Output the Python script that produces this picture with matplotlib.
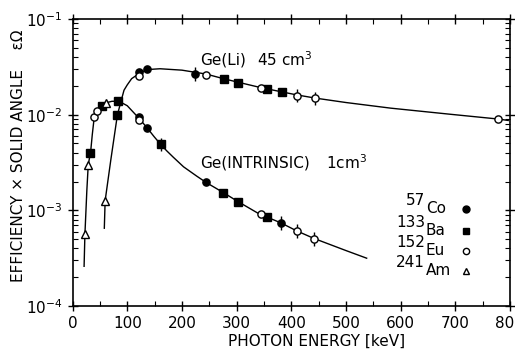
import numpy as np
import matplotlib
matplotlib.use("Agg")
import matplotlib.pyplot as plt
from matplotlib.ticker import MultipleLocator, LogLocator, NullFormatter, FixedLocator

plt.rcParams['font.family'] = ['DejaVu Sans']
plt.rcParams['mathtext.default'] = 'regular'

# fitted efficiency curves
geli_curve_e = [58, 59.5, 70, 82, 94, 100, 108, 122, 136, 160, 200, 244, 277, 302, 344,
                383, 410, 444, 500, 582, 691, 779, 797]
geli_curve_v = [6.5e-4, 1.26e-3, 3.4e-3, 0.0100, 0.0180, 0.0205, 0.0238, 0.0270, 0.0296,
                0.0302, 0.0292, 0.0266, 0.0237, 0.0219, 0.0192, 0.0173, 0.0161, 0.0149,
                0.0134, 0.0117, 0.0101, 0.0090, 0.0087]

intr_curve_e = [21, 22.5, 26, 28.6, 33, 36, 39, 42, 45, 52, 61, 72, 85, 100, 122, 137, 149,
                161, 172, 184, 203, 227, 244, 276, 302, 341, 381, 410, 441, 500, 538]
intr_curve_v = [2.6e-4, 5.6e-4, 1.6e-3, 3.0e-3, 4.1e-3, 6.2e-3, 8.8e-3, 1.0e-2, 0.0110,
                0.0122, 0.0133, 0.0138, 0.0138, 0.0124, 0.0091, 0.0072, 0.0059,
                0.0049, 0.0042, 0.0036, 0.00285, 0.00228, 0.00196, 0.00153, 0.00124,
                0.00092, 0.00074, 0.00061, 0.00051, 0.00038, 0.000316]

# measured points, Ge(Li) 45 cm3
geli_co_e = [122, 136, 224]
geli_co_v = [0.0282, 0.0302, 0.0267]
geli_co_err = [0, 0, 1]
geli_ba_e = [82, 277, 302, 355, 383]
geli_ba_v = [0.0100, 0.0234, 0.0216, 0.0184, 0.0171]
geli_ba_err = [0, 0, 0, 0, 0]
geli_eu_e = [122, 244, 344, 410, 444, 779]
geli_eu_v = [0.0256, 0.0260, 0.0191, 0.0158, 0.0148, 0.0090]
geli_eu_err = [0, 0, 0, 1, 1, 0]
geli_am_e = [59.5]
geli_am_v = [0.00126]
geli_am_err = [0]

# measured points, Ge(intrinsic) 1 cm3
intr_co_e = [122, 137, 244, 381]
intr_co_v = [0.0094, 0.0072, 0.00196, 0.00074]
intr_co_err = [0, 0, 0, 1]
intr_ba_e = [32, 54, 83, 161, 276, 302, 356]
intr_ba_v = [0.0040, 0.0122, 0.0140, 0.0049, 0.00153, 0.00123, 0.00085]
intr_ba_err = [0, 0, 0, 1, 0, 0, 0]
intr_eu_e = [39, 45, 122, 344, 410, 441]
intr_eu_v = [0.0095, 0.0110, 0.0087, 0.00091, 0.00061, 0.00050]
intr_eu_err = [0, 0, 0, 0, 1, 1]
intr_am_e = [22.5, 28.6, 61]
intr_am_v = [0.00056, 0.0030, 0.0134]
intr_am_err = [0, 0, 0]

err_decades = 0.07

isotopes = ['57', '133', '152', '241']
elements = ['Co', 'Ba', 'Eu', 'Am']
markers = ['o', 's', 'o', '^']
faces = ['black', 'black', 'white', 'white']

fig = plt.figure(figsize=(5.15, 3.54), dpi=100)
ax = fig.add_axes([0.141, 0.1356, 0.849, 0.8107])

ax.plot(geli_curve_e, geli_curve_v, color='black', lw=1.0, zorder=2)
ax.plot(intr_curve_e, intr_curve_v, color='black', lw=1.0, zorder=2)

groups = [
    (geli_co_e, geli_co_v, geli_co_err, 0), (geli_ba_e, geli_ba_v, geli_ba_err, 1),
    (geli_eu_e, geli_eu_v, geli_eu_err, 2), (geli_am_e, geli_am_v, geli_am_err, 3),
    (intr_co_e, intr_co_v, intr_co_err, 0), (intr_ba_e, intr_ba_v, intr_ba_err, 1),
    (intr_eu_e, intr_eu_v, intr_eu_err, 2), (intr_am_e, intr_am_v, intr_am_err, 3),
]
for e, v, err, k in groups:
    e = np.array(e, float)
    v = np.array(v, float)
    err = np.array(err, bool)
    if err.any():
        f = 10 ** err_decades
        ax.errorbar(e[err], v[err], yerr=[v[err] - v[err] / f, v[err] * f - v[err]],
                    fmt='none', ecolor='black', elinewidth=1.0, capsize=0, zorder=3)
    ax.plot(e, v, ls='none', marker=markers[k], ms=5.2 if k != 3 else 5.5,
            mfc=faces[k], mec='black', mew=1.0, zorder=4)

ax.set_yscale('log')
ax.set_xlim(0, 800)
ax.set_ylim(1e-4, 1e-1)

ax.xaxis.set_major_locator(MultipleLocator(100))
ax.xaxis.set_minor_locator(MultipleLocator(50))
ax.yaxis.set_major_locator(FixedLocator([1e-4, 1e-3, 1e-2, 1e-1]))
ax.yaxis.set_minor_locator(LogLocator(base=10, subs=np.arange(2, 10)))
ax.yaxis.set_minor_formatter(NullFormatter())
ax.set_yticklabels(['$10^{-4}$', '$10^{-3}$', '$10^{-2}$', '$10^{-1}$'])

ax.tick_params(which='major', direction='inout', length=7, width=1.0,
               top=True, right=True, labelsize=11, pad=4)
ax.tick_params(which='minor', direction='in', length=3.5, width=0.8, top=True, right=True)
for s in ax.spines.values():
    s.set_linewidth(1.2)

ax.text(233, 0.0373, 'Ge(Li)', fontsize=11, va='center', ha='left')
ax.text(337, 0.0373, '45 cm$^3$', fontsize=11, va='center', ha='left')
ax.text(233, 0.00313, 'Ge(INTRINSIC)', fontsize=11, va='center', ha='left')
ax.text(463, 0.00313, '1cm$^3$', fontsize=11, va='center', ha='left')

row_y = [0.338, 0.263, 0.193, 0.123]
for i in range(4):
    ax.text(0.806, row_y[i] + 0.028, isotopes[i], transform=ax.transAxes,
            fontsize=11, ha='right', va='center')
    ax.text(0.808, row_y[i], elements[i], transform=ax.transAxes,
            fontsize=11, ha='left', va='center')
    ax.plot([0.899], [row_y[i]], transform=ax.transAxes, ls='none',
            marker=markers[i], ms=5 if i != 2 else 4.5, mfc=faces[i], mec='black', mew=1.0,
            clip_on=False)

fig.text(0.614, 0.035, 'PHOTON ENERGY [keV]', fontsize=11, ha='center', va='center')
fig.text(0.035, 0.56, 'EFFICIENCY × SOLID ANGLE    εΩ', fontsize=11,
         ha='center', va='center', rotation=90)

fig.savefig('out.png', dpi=100)
